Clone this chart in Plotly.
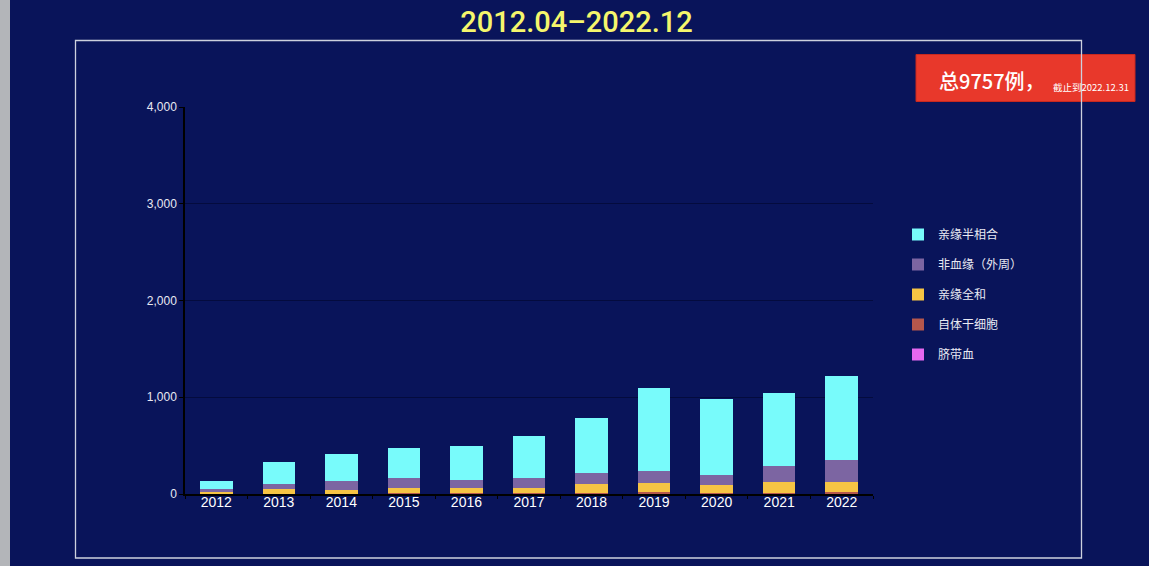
import plotly.graph_objects as go

# ---- data ----
years = ["2012", "2013", "2014", "2015", "2016", "2017", "2018", "2019", "2020", "2021", "2022"]
cord_blood = [0, 1, 1, 1, 1, 1, 2, 3, 2, 3, 5]               # 脐带血
autologous = [3, 3, 3, 5, 5, 5, 8, 15, 8, 8, 15]             # 自体干细胞
sibling_full = [17, 48, 34, 56, 56, 59, 93, 99, 83, 116, 107]  # 亲缘全和
unrelated = [29, 48, 96, 100, 83, 97, 111, 121, 107, 163, 225]  # 非血缘（外周）
haplo = [88, 234, 276, 310, 351, 434, 569, 858, 782, 758, 868]  # 亲缘半相合

series_names = ["脐带血", "自体干细胞", "亲缘全和", "非血缘（外周）", "亲缘半相合"]
series_values = [cord_blood, autologous, sibling_full, unrelated, haplo]
series_colors = ["#e668f0", "#b5574c", "#f6c444", "#7c65a2", "#78fbfb"]
legend_ranks = [5, 4, 3, 2, 1]

y_ticks = [0, 1000, 2000, 3000, 4000]
title_text = "2012.04–2022.12"
total_text = "总9757例，"
date_text = "截止到2022.12.31"

# ---- geometry ----
W, H = 1149, 566
L, R, T, B = 185, 873, 107, 494
pw, ph = R - L, B - T


def px(x):
    return (x - L) / pw


def py(y):
    return (B - y) / ph


BG = "#09145a"
FONT = "Liberation Sans, Arial, sans-serif"
CJK = "Noto Sans CJK SC, sans-serif"

fig = go.Figure()
for name, vals, col, rank in zip(series_names, series_values, series_colors, legend_ranks):
    fig.add_trace(go.Bar(
        x=years, y=vals, name=name, legendgroup=name, legendrank=rank,
        marker=dict(color=col, line=dict(width=0)),
    ))

fig.update_layout(
    width=W, height=H,
    margin=dict(l=L, r=W - R, t=T, b=H - B, pad=0),
    paper_bgcolor=BG, plot_bgcolor=BG,
    barmode="stack", bargap=0.48,
    showlegend=True,
    legend=dict(
        x=px(898), y=py(220), xanchor="left", yanchor="top",
        traceorder="grouped", tracegroupgap=11,
        font=dict(family=CJK, size=12, color="#e8e9f2"),
        bgcolor="rgba(0,0,0,0)", borderwidth=0,
    ),
    title=dict(
        text=title_text, x=576.5 / W, xref="container", xanchor="center",
        y=1 - 22 / H, yref="container", yanchor="middle",
        font=dict(family="Roboto, Liberation Sans, sans-serif", size=29, color="#f5f66c", weight=500),
    ),
    xaxis=dict(
        type="category", range=[-0.5, len(years) - 0.5],
        showline=True, linecolor="#000000", linewidth=2,
        ticks="outside", tickson="boundaries", ticklen=3, tickcolor="#000000",
        ticklabelstandoff=-6,
        tickfont=dict(family=FONT, size=14, color="#ffffff"),
        showgrid=False, zeroline=False, fixedrange=True,
    ),
    yaxis=dict(
        range=[0, 4000], tickvals=y_ticks, tickformat=",",
        showline=True, linecolor="#000000", linewidth=1.5,
        ticks="outside", ticklen=4, tickcolor="#000000",
        tickfont=dict(family=FONT, size=12, color="#e8e9f2"),
        showgrid=True, gridcolor="#040b3e", gridwidth=1,
        zeroline=False, fixedrange=True,
    ),
    shapes=[
        dict(type="rect", xref="paper", yref="paper",
             x0=px(-2), x1=px(10), y0=py(H + 2), y1=py(-2),
             fillcolor="#b3b5b9", line=dict(width=0), layer="above"),
        dict(type="rect", xref="paper", yref="paper",
             x0=px(916), x1=px(1135), y0=py(101.5), y1=py(54.5),
             fillcolor="#e8382b", line=dict(color="#c8291f", width=1), layer="above"),
        dict(type="rect", xref="paper", yref="paper",
             x0=px(75.5), x1=px(1081.5), y0=py(558), y1=py(40.5),
             fillcolor="rgba(0,0,0,0)", line=dict(color="#cdd1de", width=1.3), layer="above"),
    ],
    annotations=[
        dict(text=total_text, xref="paper", yref="paper",
             x=px(937), y=py(81), xanchor="left", yanchor="middle", showarrow=False,
             font=dict(family=CJK, size=20, color="#ffffff", weight=500)),
        dict(text=date_text, xref="paper", yref="paper",
             x=px(1051), y=py(86.5), xanchor="left", yanchor="middle", showarrow=False,
             font=dict(family=CJK, size=9.5, color="#ffffff")),
    ],
)

fig.write_html(
    "out.html",
    config={"displayModeBar": False},
    post_script="document.body.style.margin='0';document.body.style.overflow='hidden';",
)
